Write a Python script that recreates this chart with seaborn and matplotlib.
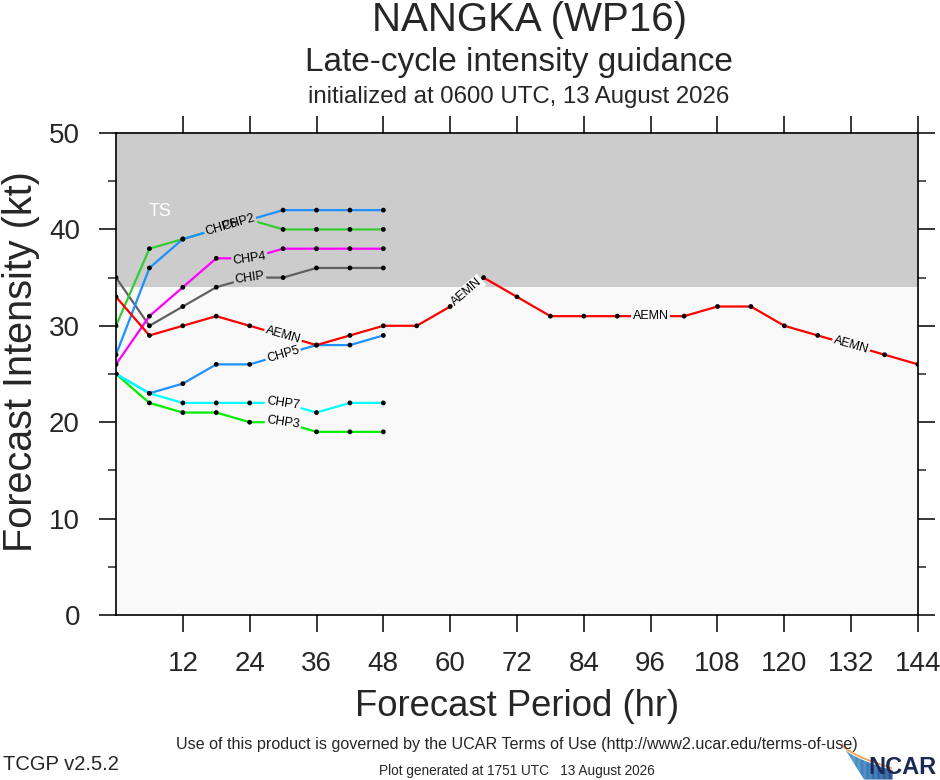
import matplotlib
matplotlib.use("Agg")
import matplotlib.pyplot as plt
import numpy as np
import pandas as pd
import seaborn as sns
from matplotlib.ticker import MultipleLocator

HOURS_SHORT = [0, 6, 12, 18, 24, 30, 36, 42, 48]
HOURS_LONG = list(range(0, 145, 6))

AEMN = [33, 29, 30, 31, 30, 29, 28, 29, 30, 30, 32, 35, 33,
        31, 31, 31, 31, 31, 32, 32, 30, 29, 28, 27, 26]
CHIP = [35, 30, 32, 34, 35, 35, 36, 36, 36]
CHP2 = [30, 38, 39, 40, 41, 40, 40, 40, 40]
CHP3 = [25, 22, 21, 21, 20, 20, 19, 19, 19]
CHP4 = [26, 31, 34, 37, 37, 38, 38, 38, 38]
CHP5 = [25, 23, 24, 26, 26, 27, 28, 28, 29]
CHP6 = [27, 36, 39, 40, 41, 42, 42, 42, 42]
CHP7 = [25, 23, 22, 22, 22, 22, 21, 22, 22]

MODELS = ["CHIP", "CHP2", "CHP3", "CHP4", "CHP5", "CHP6", "CHP7", "AEMN"]
SERIES = {"CHIP": CHIP, "CHP2": CHP2, "CHP3": CHP3, "CHP4": CHP4,
          "CHP5": CHP5, "CHP6": CHP6, "CHP7": CHP7, "AEMN": AEMN}
COLORS = {"CHIP": "#606060", "CHP2": "#33CC33", "CHP3": "#00EE00",
          "CHP4": "#FF00FF", "CHP5": "#1E90FF", "CHP6": "#1E90FF",
          "CHP7": "#00FFFF", "AEMN": "#FF0000"}
# forecast hour where each line carries its name
LABEL_HOURS = {"AEMN": [30, 63, 96, 132], "CHIP": [24], "CHP2": [22],
               "CHP3": [30], "CHP4": [24], "CHP5": [30], "CHP6": [19],
               "CHP7": [30]}
TS_THRESHOLD = 34
TS_BG = "#CCCCCC"
LOW_BG = "#F9F9F9"

rows = []
for name in MODELS:
    hours = HOURS_LONG if name == "AEMN" else HOURS_SHORT
    for h, v in zip(hours, SERIES[name]):
        rows.append({"model": name, "hour": h, "vmax": v})
df = pd.DataFrame(rows)

sns.set_style("ticks")
plt.rcParams["font.family"] = ["Liberation Sans", "DejaVu Sans"]

fig = plt.figure(figsize=(9.4, 7.8), dpi=100)
ax = fig.add_axes([116 / 940, 1 - 615 / 780, 802 / 940, 482 / 780])
ax.set_facecolor(LOW_BG)
ax.axhspan(TS_THRESHOLD, 50, color=TS_BG, zorder=0, lw=0)

sns.lineplot(data=df, x="hour", y="vmax", hue="model", hue_order=MODELS,
             palette=COLORS, linewidth=1.6, legend=False, sort=False,
             estimator=None, ax=ax, zorder=2)
sns.scatterplot(data=df, x="hour", y="vmax", color="black", s=12,
                edgecolor="none", legend=False, ax=ax, zorder=3)

ax.set_xlim(0, 144)
ax.set_ylim(0, 50)
ax.set_xticks(range(12, 145, 12))
ax.set_yticks(range(0, 51, 10))
ax.yaxis.set_minor_locator(MultipleLocator(5))
ax.set_xlabel("")
ax.set_ylabel("")
ax.tick_params(axis="both", which="major", direction="out", length=12,
               width=1.1, labelsize=20, pad=14, color="black",
               top=True, right=True)
ax.tick_params(axis="y", which="minor", direction="out", length=6,
               width=1.1, left=True, right=True)
for sp in ax.spines.values():
    sp.set_visible(True)
    sp.set_linewidth(1.2)
    sp.set_color("black")

ax.text(8, 41.9, "TS", color="white", fontsize=13, ha="center",
        va="center", zorder=4)


def label_line(name, hour):
    hours = np.array(HOURS_LONG if name == "AEMN" else HOURS_SHORT, float)
    vals = np.array(SERIES[name], float)
    if hour % 6 == 0:
        lo, hi = hour - 6, hour + 6
    else:
        lo = hour - hour % 6
        hi = lo + 6
    yc = np.interp(hour, hours, vals)
    p0 = ax.transData.transform((lo, np.interp(lo, hours, vals)))
    p1 = ax.transData.transform((hi, np.interp(hi, hours, vals)))
    ang = np.degrees(np.arctan2(p1[1] - p0[1], p1[0] - p0[0]))
    bg = TS_BG if yc > TS_THRESHOLD else LOW_BG
    kw = dict(fontsize=9, ha="center", va="center", rotation=ang,
              rotation_mode="anchor")
    # background patch breaks the line, text drawn above all patches
    ax.text(hour, yc, name, color="none", zorder=4,
            bbox=dict(boxstyle="square,pad=0.12", fc=bg, ec="none"), **kw)
    ax.text(hour, yc, name, color="black", zorder=6, **kw)


for name in MODELS:
    for h in LABEL_HOURS[name]:
        label_line(name, h)

fig.text(530 / 940, 1 - 20 / 780, "NANGKA (WP16)", fontsize=29,
         ha="center", va="center")
fig.text(519 / 940, 1 - 62 / 780, "Late-cycle intensity guidance",
         fontsize=24, ha="center", va="center")
fig.text(519 / 940, 1 - 97 / 780, "initialized at 0600 UTC, 13 August 2026",
         fontsize=17.3, ha="center", va="center")
fig.text(517 / 940, 1 - 707 / 780, "Forecast Period (hr)", fontsize=26.3,
         ha="center", va="center")
fig.text(21 / 940, 1 - 362 / 780, "Forecast Intensity (kt)", fontsize=28.5,
         ha="center", va="center", rotation=90)
fig.text(517 / 940, 1 - 744 / 780,
         "Use of this product is governed by the UCAR Terms of Use "
         "(http://www2.ucar.edu/terms-of-use)",
         fontsize=11.6, ha="center", va="center")
fig.text(3 / 940, 1 - 764 / 780, "TCGP v2.5.2", fontsize=14.5,
         ha="left", va="center")
fig.text(517 / 940, 1 - 771 / 780,
         "Plot generated at 1751 UTC   13 August 2026",
         fontsize=9.8, ha="center", va="center")

# NCAR logo: blue swoosh + wordmark
logo = fig.add_axes([842 / 940, 1 - 779 / 780, 50 / 940, 36 / 780])
logo.set_xlim(0, 1)
logo.set_ylim(0, 1)
logo.axis("off")
t = np.linspace(0, 1, 60)
upper = 0.95 - 0.7 * t ** 0.6
lower = np.clip(0.95 - 2.2 * t, 0, None)
for i in range(len(t) - 1):
    shade = plt.cm.Blues(0.6 + 0.38 * t[i])
    logo.fill_between(t[i:i + 2], lower[i:i + 2], upper[i:i + 2],
                      color=shade, lw=0)
logo.plot(t, upper + 0.05, color="#F0A050", lw=1.3)
fig.text(937 / 940, 1 - 767 / 780, "NCAR", fontsize=17, fontweight="bold",
         color="#1B2A55", ha="right", va="center")

fig.savefig("out.png", dpi=100)
